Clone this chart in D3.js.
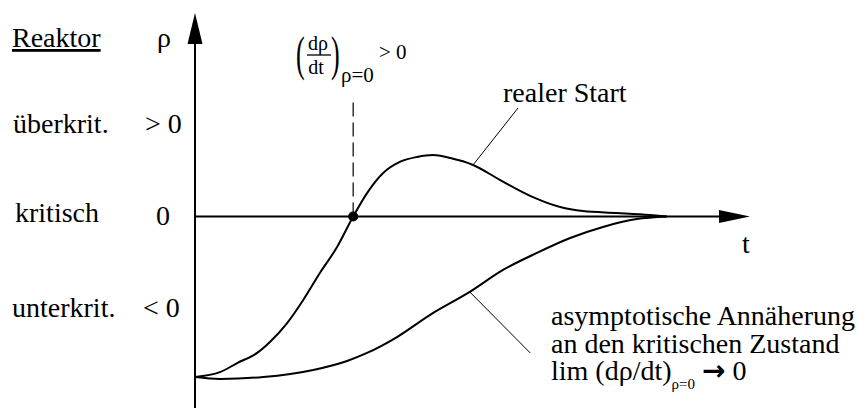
<!DOCTYPE html>
<html>
<head>
<meta charset="utf-8">
<script src="https://cdn.jsdelivr.net/npm/d3@7"></script>
<style>
  body { margin: 0; background: #fff; }
</style>
</head>
<body>
<div id="chart"></div>
<script>
// reactivity rho over time t, reactor start-up
const realStart = [
  [0, -1.0], [4.5, -0.97], [7.6, -0.913], [11.2, -0.85], [13.5, -0.782],
  [16.6, -0.664], [19.5, -0.52], [22.5, -0.352], [25.6, -0.19], [28.5, 0],
  [31, 0.146], [33.9, 0.271], [36.9, 0.34], [40, 0.371], [42.9, 0.383],
  [46, 0.364], [50.1, 0.321], [55, 0.227], [60.9, 0.121], [65.8, 0.059],
  [69.9, 0.034], [76, 0.022], [82, 0.009], [85, 0]
];
const asymptotic = [
  [0, -1.0], [4.5, -1.012], [12.3, -1.0], [21.3, -0.956], [27.4, -0.9],
  [31, -0.85], [36.4, -0.751], [42.3, -0.614], [49.5, -0.47], [55.5, -0.333],
  [61.6, -0.227], [67.6, -0.134], [73.5, -0.065], [79.6, -0.016], [85, 0]
];
const crossing = [28.5, 0];
const dashTop = 0.725;
const realLeader = [[50.1, 0.321], [58.2, 0.676]];
const asymLeader = [[49.5, -0.47], [60.4, -0.85]];

const states = ["überkrit.", "kritisch", "unterkrit."];
const signs = ["> 0", "0", "< 0"];
const asymLines = ["asymptotische Annäherung", "an den kritischen Zustand"];

const SERIF = "Liberation Serif";

function chart() {
  const width = 857;
  const height = 408;

  const xScale = d3.scaleLinear().domain([0, 100]).range([195, 750]);
  const yScale = d3.scaleLinear().domain([-1, 1]).range([377, 56]);

  const svg = d3.select("#chart")
    .append("svg")
    .attr("width", width)
    .attr("height", height);

  function label(parent, x, y, size, str) {
    return parent.append("text")
      .attr("x", x).attr("y", y)
      .attr("font-family", SERIF)
      .attr("font-size", size)
      .attr("fill", "#000")
      .text(str);
  }

  const x0 = xScale(0), y0 = yScale(0);

  // axes with arrow heads
  svg.append("line")
    .attr("x1", x0).attr("x2", x0)
    .attr("y1", height).attr("y2", 40)
    .attr("stroke", "#000").attr("stroke-width", 2);
  svg.append("path")
    .attr("d", `M${x0},13 L${x0 - 7.5},44 L${x0 + 7.5},44 Z`)
    .attr("fill", "#000");

  svg.append("line")
    .attr("x1", x0).attr("x2", 724)
    .attr("y1", y0).attr("y2", y0)
    .attr("stroke", "#000").attr("stroke-width", 2);
  svg.append("path")
    .attr("d", `M750,${y0} L719,${y0 - 6.5} L719,${y0 + 6.5} Z`)
    .attr("fill", "#000");

  const line = d3.line()
    .x(d => xScale(d[0]))
    .y(d => yScale(d[1]))
    .curve(d3.curveMonotoneX);

  svg.append("path")
    .datum(realStart)
    .attr("d", line)
    .attr("fill", "none").attr("stroke", "#000").attr("stroke-width", 2);

  svg.append("path")
    .datum(asymptotic)
    .attr("d", line)
    .attr("fill", "none").attr("stroke", "#000").attr("stroke-width", 2);

  // dashed marker at rho = 0 crossing
  svg.append("line")
    .attr("x1", xScale(crossing[0])).attr("x2", xScale(crossing[0]))
    .attr("y1", yScale(crossing[1])).attr("y2", yScale(dashTop))
    .attr("stroke", "#000").attr("stroke-width", 1.2)
    .attr("stroke-dasharray", "14,6");

  svg.append("circle")
    .attr("cx", xScale(crossing[0]))
    .attr("cy", yScale(crossing[1]))
    .attr("r", 5);

  // leader lines
  [realLeader, asymLeader].forEach(l => {
    svg.append("line")
      .attr("x1", xScale(l[0][0])).attr("y1", yScale(l[0][1]))
      .attr("x2", xScale(l[1][0])).attr("y2", yScale(l[1][1]))
      .attr("stroke", "#000").attr("stroke-width", 1);
  });

  // left column labels
  label(svg, 12, 47, 28, "Reaktor").attr("text-decoration", "underline");
  label(svg, 157, 47, 28, "ρ");

  const rowY = [133, 222, 317];
  const stateX = [13, 15, 12];
  const signX = [145, 156, 143];
  states.forEach((s, i) => {
    label(svg, stateX[i], rowY[i], 28, s);
    label(svg, signX[i], rowY[i] + (i === 1 ? 3 : 0), 28, signs[i]);
  });

  label(svg, 742, 253, 28, "t");
  label(svg, 503, 102, 28, "realer Start");

  // derivative annotation
  const ann = svg.append("g");
  label(ann, 0, 0, 26, "(").attr("transform", "translate(296,70) scale(1,1.85)");
  label(ann, 0, 0, 26, ")").attr("transform", "translate(331,70) scale(1,1.85)");
  label(ann, 318, 50, 20, "dρ").attr("text-anchor", "middle");
  ann.append("line")
    .attr("x1", 307).attr("x2", 331)
    .attr("y1", 55).attr("y2", 55)
    .attr("stroke", "#000").attr("stroke-width", 1.3);
  label(ann, 316, 74, 20, "dt").attr("text-anchor", "middle");
  label(ann, 341, 82, 21, "ρ=0");
  label(ann, 379, 59, 21, "> 0");

  // asymptotic label
  asymLines.forEach((s, i) => label(svg, 551, 325 + i * 27.5, 28, s));
  const lim = label(svg, 551, 380, 28, null);
  lim.append("tspan").text("lim (dρ/dt)");
  lim.append("tspan").attr("font-size", 15).attr("dy", 9).text("ρ=0");
  lim.append("tspan").attr("dy", -9).text(" ");
  lim.append("tspan").attr("font-family", "DejaVu Sans").attr("font-weight", "bold").text("→");
  lim.append("tspan").text(" 0");
}

window.onload = chart;
</script>
</body>
</html>
